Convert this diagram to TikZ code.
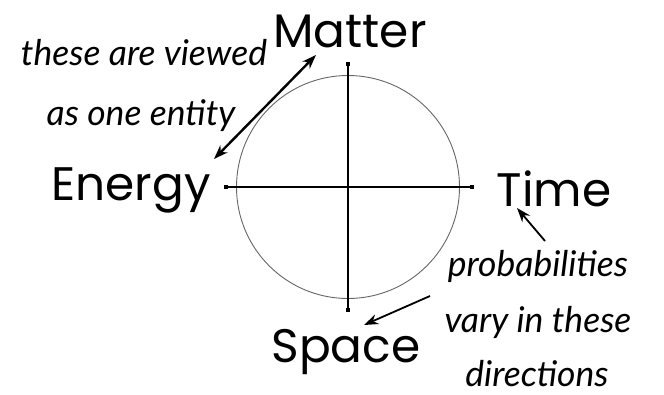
\documentclass[tikz,border=0pt]{standalone}
\usepackage{fontspec}
\setmainfont{Poppins}
\newfontfamily\notefont{Lato}
\usetikzlibrary{arrows.meta}

\begin{document}
\begin{tikzpicture}[
  x=1pt, y=-1pt,
  axislab/.style={anchor=base, inner sep=0pt, font=\fontsize{47}{50}\selectfont},
  note/.style={anchor=base, inner sep=0pt, align=center,
               font=\notefont\itshape\fontsize{35.5}{55}\selectfont},
  axis/.style={line width=1.4pt},
  tip/.style={fill, minimum size=4pt, inner sep=0pt},
  arr/.style={-{Stealth[length=5mm, width=3.6mm]}, line width=2pt}
]
\useasboundingbox (0,0) rectangle (664,394);
% circle and axes
\draw[gray!80!black, line width=0.9pt] (348,187) circle (111.5pt);
\node[tip] (top) at (348,64) {};
\node[tip] (bottom) at (348,310) {};
\node[tip] (left) at (226,187) {};
\node[tip] (right) at (472,187) {};
\draw[axis] (top) -- (bottom);
\draw[axis] (left) -- (right);
% labels
\node[axislab] (matter) at (350,47) {Matter};
\node[axislab] (energy) at (131,200) {Energy};
\node[axislab] (time) at (554,206) {Time};
\node[axislab] (space) at (346,362) {Space};
\node[note] (view1) at (144,65) {these are viewed};
\node[note] (view2) at (141,125) {as one entity};
\node[note] (prob1) at (538,276) {probabilities};
\node[note] (prob2) at (538,332) {vary in these};
\node[note] (prob3) at (537,386) {directions};
% arrows
\coordinate (viewtop) at (316,55);
\coordinate (viewbot) at (214,159);
\coordinate (timefrom) at (545,241);
\coordinate (timeto) at (517,208);
\coordinate (spacefrom) at (430,296);
\coordinate (spaceto) at (364,325);
\draw[arr, line width=2.4pt, {Stealth[length=5mm, width=3.6mm]}-{Stealth[length=5mm, width=3.6mm]}] (viewbot) -- (viewtop);
\draw[arr, line width=1.8pt] (timefrom) -- (timeto);
\draw[arr, line width=1.8pt] (spacefrom) -- (spaceto);
\end{tikzpicture}
\end{document}
